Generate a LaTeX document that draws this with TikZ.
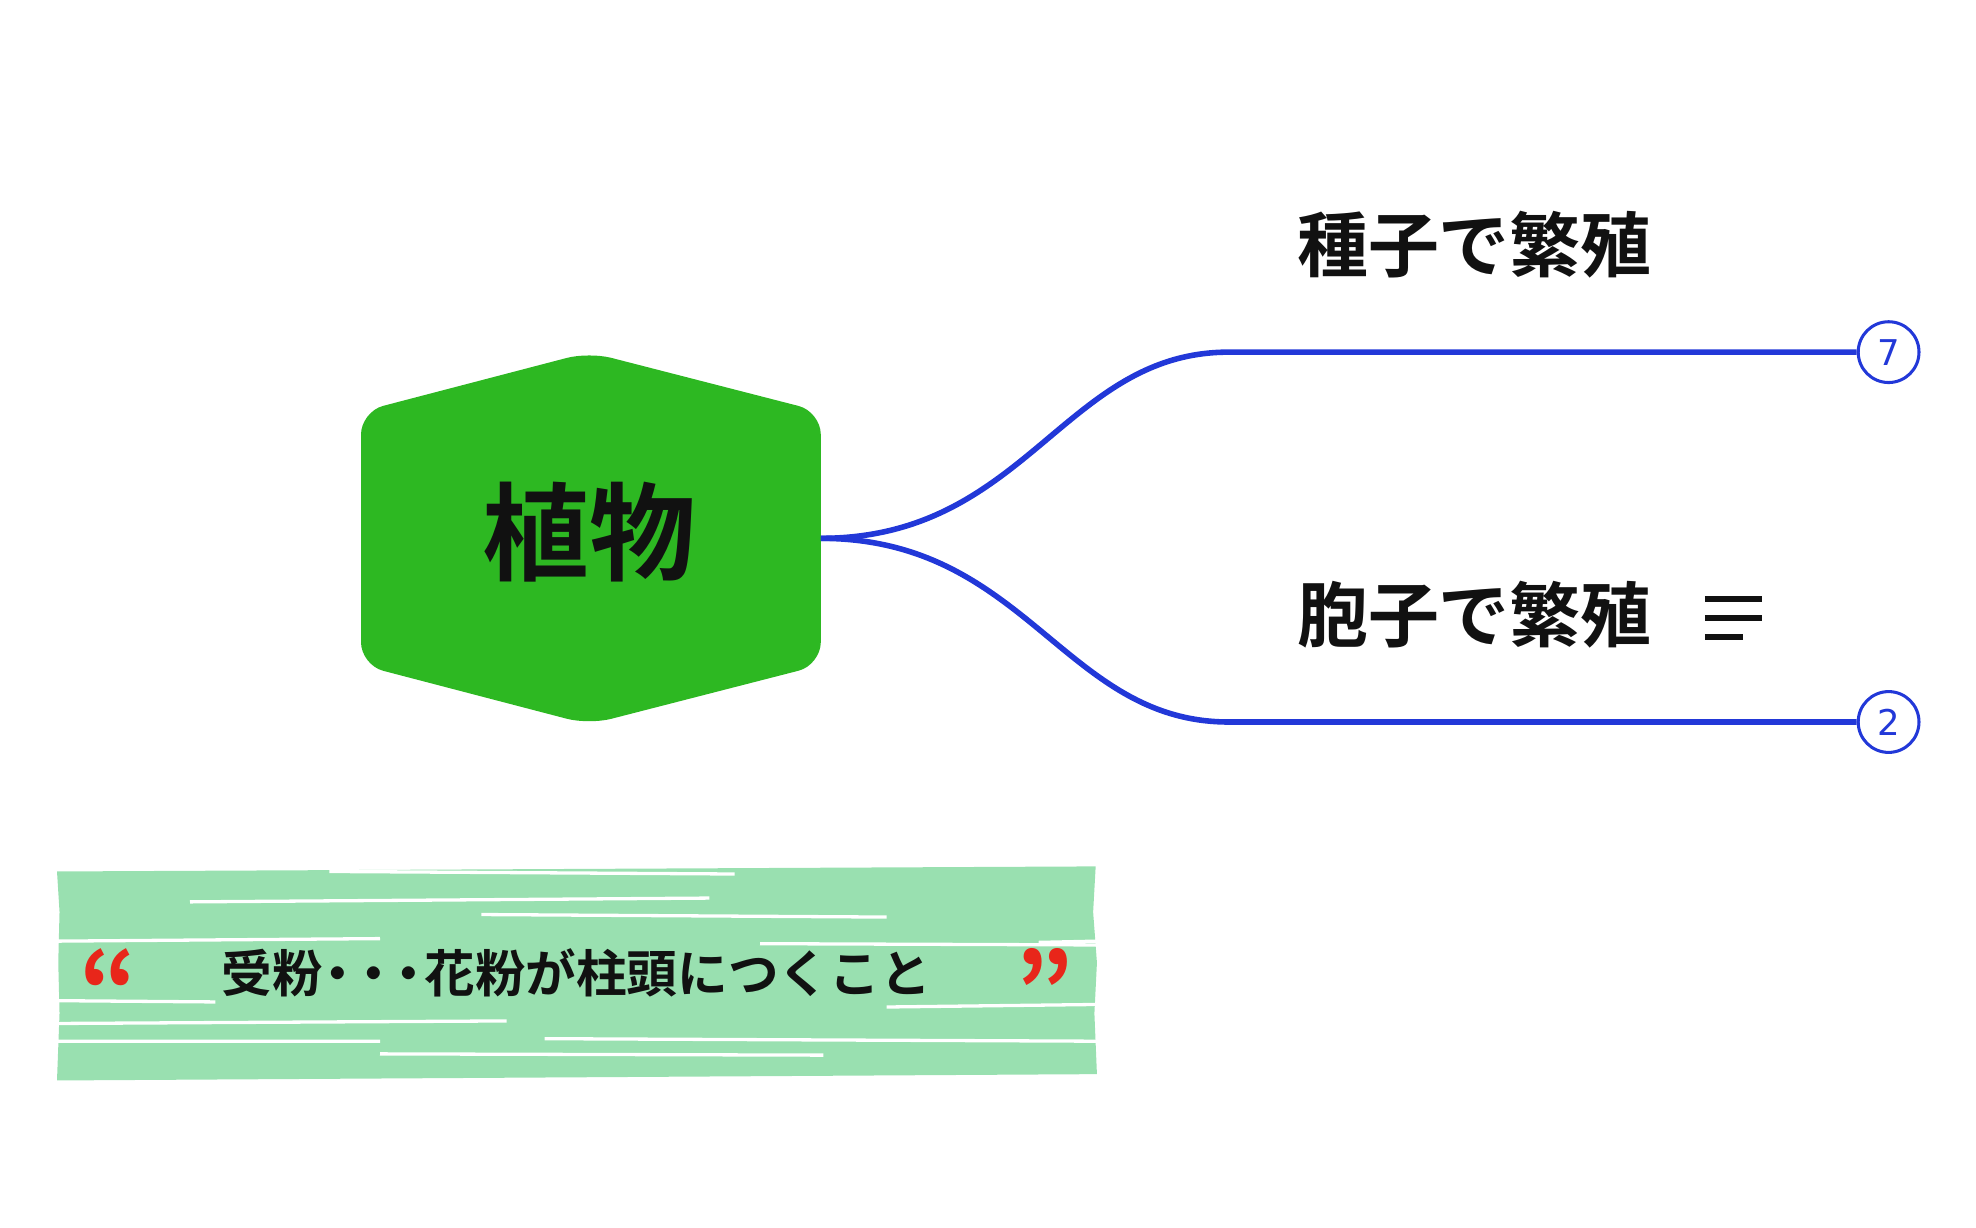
\documentclass[tikz,border=0pt]{standalone}
\usepackage{fontspec}
\newfontfamily\cjk{Noto Sans CJK JP Bold}
\newfontfamily\djv{DejaVu Sans}
\definecolor{hexg}{HTML}{2DB822}
\definecolor{lnb}{HTML}{2238D8}
\definecolor{noteg}{HTML}{99E0B0}
\definecolor{qred}{HTML}{E8261A}
\definecolor{txt}{HTML}{111111}
\begin{document}
\begin{tikzpicture}[x=0.5pt,y=-0.5pt,
  conn/.style={lnb,line width=2.2pt},
  badge/.style={circle,draw=lnb,line width=1.2pt,fill=white,minimum size=24pt,inner sep=0pt,text=lnb,font=\djv\fontsize{14}{14}\selectfont},
  topic/.style={text=txt,font=\cjk\fontsize{28}{28}\selectfont,inner sep=0pt},
  gap/.style={white,line width=1.3pt}]
\useasboundingbox (0,0) rectangle (1560,969);
% hexagon
\fill[hexg,rounded corners=9pt] (465,278)--(648,325)--(648,525)--(465,572)--(285,525)--(285,325)--cycle;
\node[text=txt,font=\cjk\fontsize{42}{42}\selectfont,inner sep=0pt] (root) at (465,420) {植物};
\coordinate (rr) at (648,425);
% branches
\node[badge] (b1) at (1491,278) {7};
\node[badge] (b2) at (1491,570) {2};
\coordinate (k1) at (970,278);
\coordinate (k2) at (970,570);
\draw[conn] (rr) .. controls (810,425) and (840,278) .. (k1) -- (b1.west);
\draw[conn] (rr) .. controls (810,425) and (840,570) .. (k2) -- (b2.west);
\node[topic] (t1) at (1164,193) {種子で繁殖};
\node[topic] (t2) at (1164,485) {胞子で繁殖};
\draw[txt,line width=2.4pt] (1346,473)--(1391,473) (1346,488)--(1391,488) (1346,503)--(1376,503);
% note
\fill[noteg] (45,688)--(865,684)--(863,720)--(866,760)--(864,800)--(866,848)--(45,853)--(47,800)--(46,760)--(47,720)--cycle;
\draw[gap] (150,712)--(560,709);
\draw[gap] (260,688)--(580,690);
\draw[gap] (380,722)--(700,724);
\draw[gap] (45,743)--(300,741) (820,744)--(866,743);
\draw[gap] (600,745)--(866,746);
\draw[gap] (45,790)--(170,791) (700,795)--(866,793);
\draw[gap] (45,808)--(400,806);
\draw[gap] (45,822)--(300,822) (430,820)--(866,822);
\draw[gap] (300,832)--(650,833);
\node[text=txt,font=\cjk\fontsize{20}{20}\selectfont,inner sep=0pt] (nt) at (455,768) {受粉\kern-4pt・\kern-6pt・\kern-6pt・\kern-4pt花粉が柱頭につくこと};
\node[text=qred,font=\cjk\fontsize{40}{40}\selectfont,inner sep=0pt] (q1) at (86,780) {“};
\node[text=qred,font=\cjk\fontsize{40}{40}\selectfont,inner sep=0pt] (q2) at (825,780) {”};
\end{tikzpicture}
\end{document}
